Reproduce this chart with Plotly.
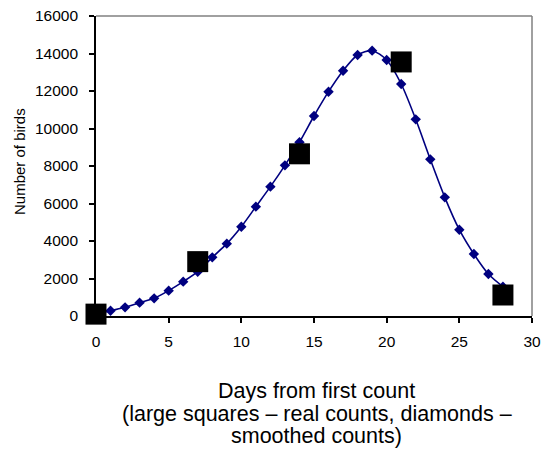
import plotly.graph_objects as go

days_smooth = list(range(0, 29))
smoothed = [100, 284, 462, 711, 942, 1351, 1831, 2364, 3129, 3858, 4764, 5831, 6898,
            8036, 9270, 10667, 11964, 13084, 13920, 14151, 13653, 12373, 10489, 8356,
            6329, 4604, 3307, 2240, 1564]
days_real = [0, 7, 14, 21, 28]
real = [100, 2900, 8650, 13550, 1120]
y_ticks = list(range(0, 16001, 2000))
x_ticks = [0, 5, 10, 15, 20, 25, 30]
title_lines = ["Days from first count",
               "(large squares \u2013 real counts, diamonds \u2013",
               "smoothed counts)"]

fig = go.Figure()
fig.add_trace(go.Scatter(
    x=days_smooth, y=smoothed, mode="lines+markers",
    line=dict(color="#000080", width=1.6, shape="spline", smoothing=0.8),
    marker=dict(symbol="diamond", size=8, color="#000080"),
    cliponaxis=False, showlegend=False))
fig.add_trace(go.Scatter(
    x=days_real, y=real, mode="markers",
    marker=dict(symbol="square", size=21, color="black"),
    cliponaxis=False, showlegend=False))

font = "Liberation Sans, Arial, sans-serif"
plot_top, plot_bottom, plot_left, plot_right = 16, 316, 96, 532
ph = plot_bottom - plot_top
pw = plot_right - plot_left

annotations = []
for py, txt in zip([391, 413.5, 436], title_lines):
    annotations.append(dict(text=txt, xref="paper", yref="paper", x=0.5 + 2.5 / pw,
                            y=(plot_bottom - py) / ph, xanchor="center", yanchor="middle",
                            showarrow=False, font=dict(size=21.5, family=font)))
annotations.append(dict(text="Number of birds", xref="paper", yref="paper",
                        x=(19 - plot_left) / pw, y=(plot_bottom - 162) / ph,
                        xanchor="center", yanchor="middle", textangle=-90,
                        showarrow=False, font=dict(size=15, family=font)))

fig.update_layout(
    width=542, height=452,
    margin=dict(l=plot_left, r=542 - plot_right, t=plot_top, b=452 - plot_bottom),
    paper_bgcolor="white", plot_bgcolor="white",
    font=dict(family=font, size=15.5, color="black"),
    xaxis=dict(range=[0, 30], tickvals=x_ticks, ticktext=[str(v) for v in x_ticks],
               showline=True, linecolor="black", linewidth=1.6, automargin=False,
               ticks="outside", ticklen=5, tickcolor="black", tickwidth=1.5,
               showgrid=False, zeroline=False, ticklabelstandoff=6),
    yaxis=dict(range=[0, 16000], tickvals=y_ticks, ticktext=[str(v) for v in y_ticks],
               showline=True, linecolor="black", linewidth=1.6, automargin=False,
               ticks="outside", ticklen=5, tickcolor="black", tickwidth=1.5,
               showgrid=False, zeroline=False, ticklabelstandoff=8),
    shapes=[
        dict(type="line", xref="paper", yref="paper", x0=0, x1=1, y0=1, y1=1,
             line=dict(color="#808080", width=1.5)),
        dict(type="line", xref="paper", yref="paper", x0=1, x1=1, y0=0, y1=1,
             line=dict(color="#808080", width=1.5)),
    ],
    annotations=annotations,
)
fig.write_html("out.html")
